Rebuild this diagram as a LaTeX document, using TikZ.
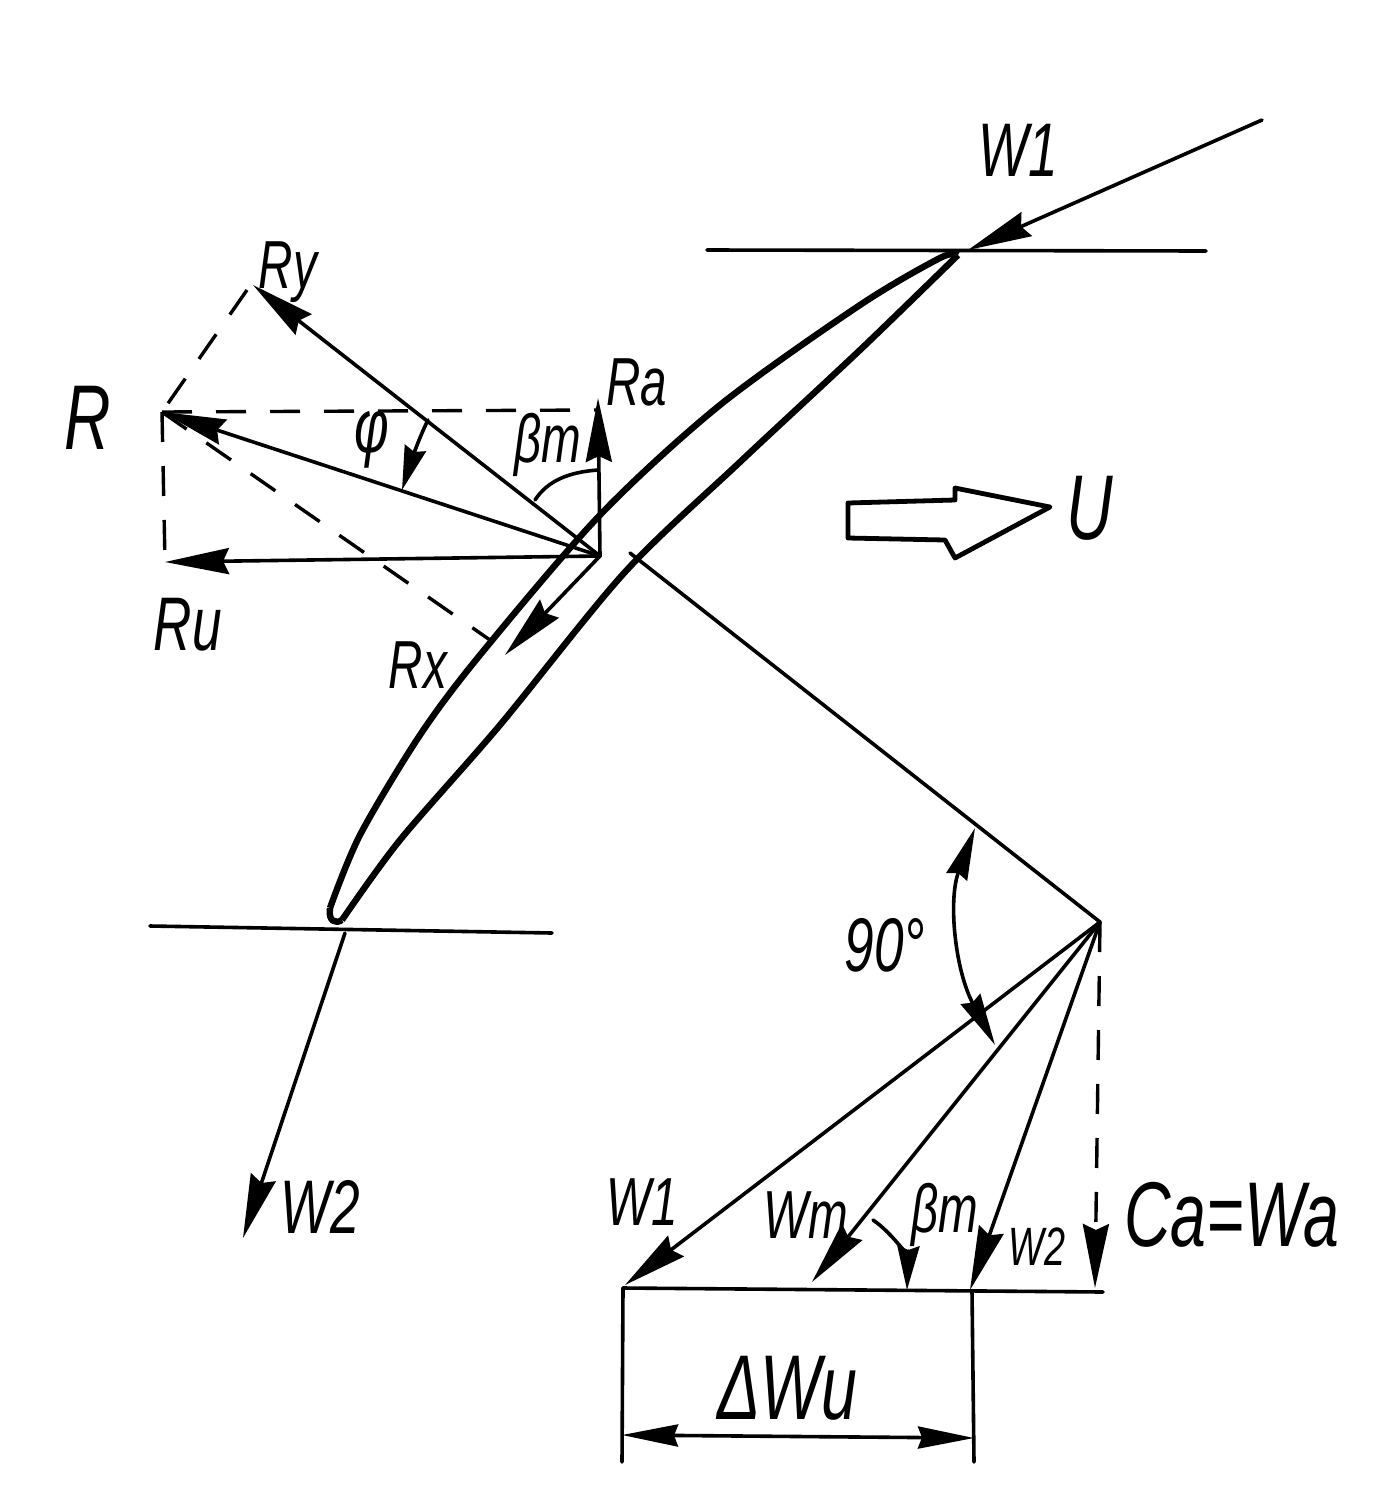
\documentclass[tikz,border=0pt]{standalone}
\usepackage{fontspec}
\setmainfont[FakeStretch=0.7]{Liberation Sans}
\usepackage{tikz}
\usetikzlibrary{arrows.meta}
\tikzstyle{hugelabel}=[inner sep=0pt,font=\fontsize{46}{46}\selectfont\itshape]
\tikzstyle{biglabel}=[inner sep=0pt,font=\fontsize{38}{38}\selectfont\itshape]
\tikzstyle{smalllabel}=[inner sep=0pt,font=\fontsize{34}{34}\selectfont\itshape]
\tikzstyle{tinylabel}=[inner sep=0pt,font=\fontsize{27}{27}\selectfont\itshape]
\tikzstyle{thinline}=[line width=1.8pt,line cap=round]
\tikzstyle{dashline}=[line width=1.7pt,dash pattern=on 15pt off 12pt]
\tikzstyle{bladeline}=[line width=3.2pt,line join=round]
\tikzstyle{arrow}=[thinline,-{Stealth[length=32pt,width=13pt,inset=3pt]}]
\tikzstyle{shortarrow}=[thinline,-{Stealth[length=22pt,width=11pt,inset=2pt]}]
\begin{document}
\begin{tikzpicture}[x=0.5pt,y=-0.5pt]
        \useasboundingbox (0,0) rectangle (1392,1494);
        % force point and tips
        \coordinate (o) at (600,556);
        \coordinate (r) at (162,412);
        \coordinate (ry) at (253,285);
        \coordinate (ra) at (598,398);
        \coordinate (ru) at (165,562);
        \coordinate (rx) at (505,655);
        \coordinate (rxend) at (490,640);
        \coordinate (rycorner) at (247,290);
        \coordinate (racorner) at (598,410);
        % velocity triangle
        \coordinate (apex) at (1100,922);
        \coordinate (normal) at (630,553);
        \coordinate (w1end) at (625,1285);
        \coordinate (wmend) at (812,1282);
        \coordinate (w2end) at (970,1290);
        \coordinate (caend) at (1095,1288);
        \coordinate (baseleft) at (623,1288);
        \coordinate (baseright) at (1103,1292);
        \coordinate (dimleft) at (622,1462);
        \coordinate (dimright) at (974,1462);
        \coordinate (dimtop) at (972,1291);
        \coordinate (dima) at (622,1435);
        \coordinate (dimb) at (974,1438);
        % inlet and outlet
        \coordinate (w1in) at (1262,120);
        \coordinate (w1tip) at (968,250);
        \coordinate (topa) at (707,250);
        \coordinate (topb) at (1206,251);
        \coordinate (lowa) at (150,926);
        \coordinate (lowb) at (552,933);
        \coordinate (w2out) at (345,933);
        \coordinate (w2tip) at (243,1238);

        % blade
        \draw [bladeline] plot [smooth] coordinates {(958,255) (940,258) (860,305) (720,405) (600,515) (480,655) (420,735) (360,835) (330,908)};
        \draw [bladeline] plot [smooth] coordinates {(958,255) (860,350) (740,462) (625,572) (500,725) (400,840) (342,920)};
        \draw [bladeline] (330,908) .. controls (328,922) and (336,924) .. (342,920);

        \draw [thinline] (topa) -- (topb);
        \draw [thinline] (lowa) -- (lowb);
        \draw [arrow] (w1in) -- (w1tip);
        \draw [arrow] (w2out) -- (w2tip);

        % forces
        \draw [arrow] (o) -- (r);
        \draw [arrow] (o) -- (ry);
        \draw [arrow] (o) -- (ra);
        \draw [arrow] (o) -- (ru);
        \draw [arrow] (o) -- (rx);
        \draw [dashline] (rycorner) -- (r);
        \draw [dashline] (r) -- (ru);
        \draw [dashline] (r) -- (racorner);
        \draw [dashline] (r) -- (rxend);

        % angles
        \draw [shortarrow] (428,420) .. controls (418,440) and (410,465) .. (402,490);
        \draw [thinline] (535,500) .. controls (548,480) and (570,472) .. (598,470);
        \draw [thinline,{Stealth[length=26pt,width=11pt,inset=2pt]}-{Stealth[length=26pt,width=11pt,inset=2pt]}] (975,828) .. controls (948,900) and (955,970) .. (995,1045);
        \draw [shortarrow] (873,1220) .. controls (895,1235) and (908,1260) .. (907,1290);

        % velocity triangle
        \draw [thinline] (normal) -- (apex);
        \draw [arrow] (apex) -- (w1end);
        \draw [arrow] (apex) -- (wmend);
        \draw [arrow] (apex) -- (w2end);
        \draw [dashline,-{Stealth[length=32pt,width=13pt,inset=3pt]}] (apex) -- (caend);
        \draw [thinline] (baseleft) -- (baseright);
        \draw [thinline] (baseleft) -- (dimleft);
        \draw [thinline] (dimtop) -- (dimright);
        \draw [thinline,{Stealth[length=28pt,width=11pt,inset=2pt]}-{Stealth[length=28pt,width=11pt,inset=2pt]}] (dima) -- (dimb);

        % blade speed arrow
        \draw [line width=2.4pt,line join=round] (848,503) -- (955,500) -- (955,488) -- (1050,507) -- (955,558) -- (945,540) -- (848,538) -- cycle;

        \node (lw1top) [biglabel] at (1018,150) {W1};
        \node (lry) [smalllabel] at (288,272) {Ry};
        \node (lr) [hugelabel] at (88,418) {R};
        \node (lphi) [biglabel] at (372,440) {φ};
        \node (lra) [smalllabel] at (637,382) {Ra};
        \node (lbeta) [smalllabel] at (548,445) {βm};
        \node (lu) [hugelabel] at (1090,508) {U};
        \node (lru) [biglabel] at (188,625) {Ru};
        \node (lrx) [smalllabel] at (418,665) {Rx};
        \node (lninety) [biglabel] at (885,945) {90°};
        \node (lw2) [biglabel] at (320,1207) {W2};
        \node (lw1) [smalllabel] at (642,1202) {W1};
        \node (lwm) [smalllabel] at (806,1215) {Wm};
        \node (lbetam) [smalllabel] at (945,1215) {βm};
        \node (lw2b) [tinylabel] at (1037,1247) {W2};
        \node (lca) [hugelabel] at (1232,1215) {Ca=Wa};
        \node (ldw) [hugelabel] at (787,1388) {ΔWu};
\end{tikzpicture}
\end{document}
